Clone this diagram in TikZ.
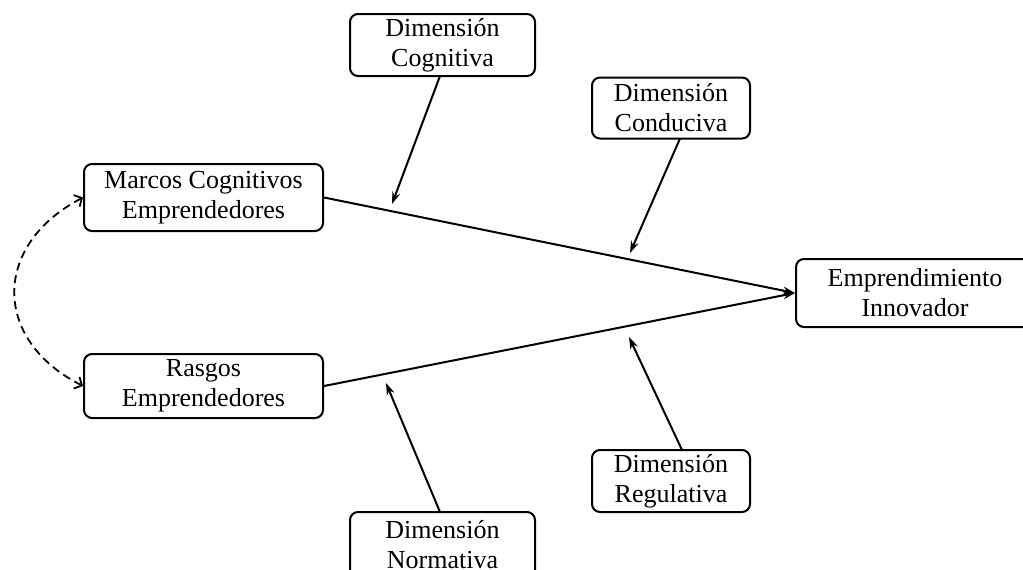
\documentclass[tikz,border=0pt]{standalone}
\usepackage{fontspec}
\setmainfont{Liberation Serif}
\usetikzlibrary{arrows.meta}
\tikzset{
  box/.style={draw, line width=2pt, rounded corners=8pt, align=center, inner sep=0pt,
    font=\fontsize{26}{30}\selectfont},
  conn/.style={line width=2pt, -{Stealth[length=12pt,width=8pt]}},
  corr/.style={line width=1.8pt, dash pattern=on 8pt off 5pt,
    {Straight Barb[length=6pt,width=13pt]}-{Straight Barb[length=6pt,width=13pt]}}
}
\begin{document}
\begin{tikzpicture}[x=1pt,y=-1pt]
\useasboundingbox (0,0) rectangle (1023,570);
\clip (0,0) rectangle (1023,570);
\node[box, minimum width=239pt, minimum height=67pt] (m) at (203.5,197.5) {Marcos Cognitivos\\Emprendedores};
\node[box, minimum width=239pt, minimum height=64pt] (r) at (203.5,386) {Rasgos\\Emprendedores};
\node[box, minimum width=185pt, minimum height=62pt] (cog) at (442.5,45) {Dimensión\\Cognitiva};
\node[box, minimum width=158pt, minimum height=61pt] (con) at (671,108) {Dimensión\\Conduciva};
\node[box, minimum width=238pt, minimum height=68pt] (e) at (915,293) {Emprendimiento\\Innovador};
\node[box, minimum width=158pt, minimum height=62pt] (reg) at (671,481) {Dimensión\\Regulativa};
\node[box, minimum width=185pt, minimum height=66pt] (nor) at (442.5,545) {Dimensión\\Normativa};

\coordinate (tcog) at (392,204);
\coordinate (tcon) at (630,253);
\coordinate (tnor) at (386,383);
\coordinate (treg) at (629,337);
\coordinate (scog) at (440,76);
\coordinate (scon) at (680,138.5);
\coordinate (snor) at (440,512);
\coordinate (sreg) at (682,450);

\draw[conn] (m.east) -- (e.west);
\draw[conn] (r.east) -- (e.west);
\draw[conn] (scog) -- (tcog);
\draw[conn] (scon) -- (tcon);
\draw[conn] (snor) -- (tnor);
\draw[conn] (sreg) -- (treg);
\draw[corr] (m.west) .. controls (-8,245) and (-8,340) .. (r.west);
\end{tikzpicture}
\end{document}
